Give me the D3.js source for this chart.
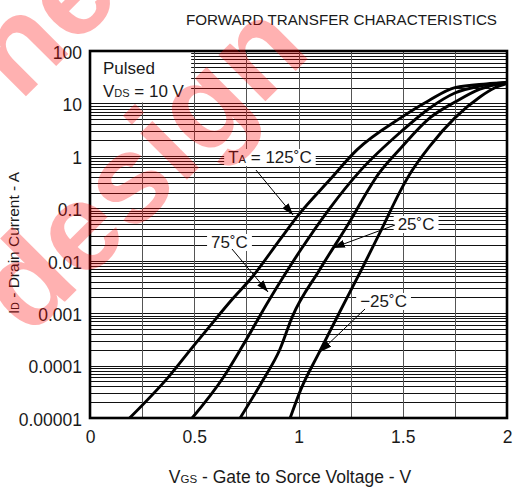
<!DOCTYPE html>
<html><head><meta charset="utf-8">
<script src="https://cdn.jsdelivr.net/npm/d3@7/dist/d3.min.js"></script>
<style>
body{margin:0;background:#fff}
svg{display:block}
text{font-family:"Liberation Sans",Arial,Helvetica,sans-serif;fill:#1a1a1a}
</style>
</head><body>
<svg id="chart" width="520" height="491"></svg>
<script>
// ---------- data ----------
const xTickValues = [0, 0.5, 1, 1.5, 2];
const xTickLabels = ["0", "0.5", "1", "1.5", "2"];
const xGridValues = [0.25, 0.5, 0.75, 1, 1.25, 1.5, 1.75];
const yTickValues = [0.00001, 0.0001, 0.001, 0.01, 0.1, 1, 10, 100];
const yTickLabels = ["0.00001", "0.0001", "0.001", "0.01", "0.1", "1", "10", "100"];

const seriesNames = ["125˚C", "75˚C", "25˚C", "−25˚C"];
// VGS (V) and ID (A)
const vgs125 = [0.19, 0.38, 0.49, 0.56, 0.68, 0.78, 0.91, 1.0, 1.15, 1.28, 1.49, 1.62, 1.75, 1.9, 2.0];
const id125  = [1e-5, 6.3e-5, 2.2e-4, 4.8e-4, 1.8e-3, 5.0e-3, 0.025, 0.075, 0.35, 1.3, 5.3, 11, 20, 23.5, 25];
const vgs75  = [0.49, 0.64, 0.73, 0.86, 1.01, 1.15, 1.3, 1.49, 1.63, 1.75, 1.87, 2.0];
const id75   = [1e-5, 6e-5, 2.3e-4, 1.8e-3, 0.016, 0.1, 0.54, 2.85, 8.2, 15.8, 21.5, 25];
const vgs25  = [0.72, 0.83, 0.91, 0.97, 1.1, 1.23, 1.39, 1.49, 1.63, 1.75, 1.87, 1.97, 2.0];
const id25   = [1e-5, 5.3e-5, 2e-4, 8.5e-4, 6.6e-3, 0.044, 0.49, 1.4, 5.3, 10.6, 18.8, 24, 25];
const vgsM25 = [0.96, 1.01, 1.1, 1.2, 1.3, 1.39, 1.49, 1.54, 1.63, 1.75, 1.87, 1.94, 2.0];
const idM25  = [1e-5, 3.4e-5, 1.8e-4, 1.1e-3, 6.5e-3, 0.034, 0.22, 0.49, 1.54, 5.3, 13.3, 19.7, 24];

// annotation anchors in data units: label (V, A), arrow tail (V, A), arrow tip (V, A)
const labelV     = [0.863, 0.669, 1.564, 1.408];
const labelI     = [0.731, 0.0175, 0.0385, 1.31e-3];
const arrowFromV = [0.796, 0.681, 1.463, 1.319];
const arrowFromI = [0.537, 0.0167, 0.048, 1.2e-3];
const arrowToV   = [0.974, 0.854, 1.165, 1.103];
const arrowToI   = [0.0745, 2.53e-3, 0.0175, 1.82e-4];

const titleText = "FORWARD TRANSFER CHARACTERISTICS";

// ---------- layout ----------
const svg = d3.select("#chart");
const L = 90, R = 507, T = 51, B = 418;
const x = d3.scaleLinear().domain([0, 2]).range([L, R]);
const y = d3.scaleLog().domain([1e-5, 100]).range([B, T]);

// grid
const hGrid = [];
for (let e = -5; e <= 1; e++) for (let m = 1; m <= 9; m++) hGrid.push(m * Math.pow(10, e));
const g = svg.append("g").attr("shape-rendering", "crispEdges");
g.selectAll("line.h").data(hGrid).join("line")
  .attr("x1", L).attr("x2", R)
  .attr("y1", d => Math.round(y(d)) + 0.5).attr("y2", d => Math.round(y(d)) + 0.5)
  .attr("stroke", "#111").attr("stroke-width", 1);
g.selectAll("line.v").data(xGridValues).join("line")
  .attr("y1", T).attr("y2", B)
  .attr("x1", d => Math.round(x(d)) + 0.5).attr("x2", d => Math.round(x(d)) + 0.5)
  .attr("stroke", "#555").attr("stroke-width", 1.2);

// white box behind "Pulsed" note
svg.append("rect").attr("x", L).attr("y", T)
  .attr("width", x(0.49) - L - 1).attr("height", y(10) - T - 1).attr("fill", "#fff");

// labels with white backgrounds
const labGroup = svg.append("g");
const fs = 17;
function addLabel(parts, cx, by, anchor) {
  const t = labGroup.append("text").attr("x", cx).attr("y", by)
    .attr("text-anchor", anchor).attr("font-size", fs);
  parts.forEach(p => {
    const ts = t.append("tspan").text(p.t);
    if (p.sub) ts.attr("font-size", fs * 0.66);
  });
  return t;
}
const labelParts = [
  [{t: "T"}, {t: "A", sub: true}, {t: " = " + seriesNames[0]}],
  [{t: seriesNames[1]}],
  [{t: seriesNames[2]}],
  [{t: seriesNames[3]}]
];
labelParts.forEach((parts, k) => {
  const t = addLabel(parts, x(labelV[k]), y(labelI[k]), "middle");
  const bb = t.node().getBBox();
  labGroup.insert("rect", "text").attr("x", bb.x - 4).attr("y", bb.y + 1)
    .attr("width", bb.width + 8).attr("height", bb.height - 2).attr("fill", "#fff");
});

// curves
const series = [
  {v: vgs125, i: id125}, {v: vgs75, i: id75}, {v: vgs25, i: id25}, {v: vgsM25, i: idM25}
];
svg.append("clipPath").attr("id", "clip").append("rect")
  .attr("x", L).attr("y", T).attr("width", R - L).attr("height", B - T);
const line = d3.line().x(d => x(d[0])).y(d => y(d[1])).curve(d3.curveMonotoneX);
svg.append("g").attr("clip-path", "url(#clip)").selectAll("path").data(series).join("path")
  .attr("d", s => line(s.v.map((v, j) => [v, s.i[j]])))
  .attr("fill", "none").attr("stroke", "#000").attr("stroke-width", 2.9)
  .attr("stroke-linejoin", "round");

// arrows
const defs = svg.append("defs");
defs.append("marker").attr("id", "ah").attr("viewBox", "0 0 12 8")
  .attr("refX", 12).attr("refY", 4).attr("markerWidth", 12).attr("markerHeight", 8)
  .attr("markerUnits", "userSpaceOnUse").attr("orient", "auto")
  .append("path").attr("d", "M0,0 L12,4 L0,8 Z").attr("fill", "#000");
svg.append("g").selectAll("line").data(labelV).join("line")
  .attr("x1", (d, k) => x(arrowFromV[k])).attr("y1", (d, k) => y(arrowFromI[k]))
  .attr("x2", (d, k) => x(arrowToV[k])).attr("y2", (d, k) => y(arrowToI[k]))
  .attr("stroke", "#000").attr("stroke-width", 1).attr("marker-end", "url(#ah)");

// Pulsed note
svg.append("text").attr("x", x(0.062)).attr("y", y(36.4)).attr("font-size", 17).text("Pulsed");
const vds = svg.append("text").attr("x", x(0.062)).attr("y", y(13.3)).attr("font-size", 17);
vds.append("tspan").text("V");
vds.append("tspan").attr("font-size", 11).text("DS");
vds.append("tspan").text(" = 10 V");

// frame
svg.append("rect").attr("x", L).attr("y", T).attr("width", R - L).attr("height", B - T)
  .attr("fill", "none").attr("stroke", "#000").attr("stroke-width", 2.6);

// axes (tick labels only)
const xAxis = d3.axisBottom(x).tickValues(xTickValues).tickSize(0).tickPadding(0)
  .tickFormat((d, k) => xTickLabels[k]);
const xa = svg.append("g").attr("transform", `translate(0,${B})`).call(xAxis);
xa.select(".domain").remove();
xa.selectAll("text").attr("font-size", 17.5).attr("fill", "#1a1a1a")
  .attr("font-family", '"Liberation Sans",Arial,sans-serif').attr("dy", null).attr("y", 25);

const yAxis = d3.axisLeft(y).tickValues(yTickValues).tickSize(0).tickPadding(8)
  .tickFormat((d, k) => yTickLabels[k]);
const ya = svg.append("g").attr("transform", `translate(${L},0)`).call(yAxis);
ya.select(".domain").remove();
ya.selectAll("text").attr("font-size", 17.5).attr("fill", "#1a1a1a")
  .attr("font-family", '"Liberation Sans",Arial,sans-serif').attr("dy", "0.42em");

// titles
svg.append("text").attr("x", 497).attr("y", 25).attr("text-anchor", "end")
  .attr("font-size", 15.2).attr("fill", "#222").text(titleText);

const xl = svg.append("text").attr("x", 290).attr("y", 483).attr("text-anchor", "middle").attr("font-size", 17.5);
xl.append("tspan").text("V");
xl.append("tspan").attr("font-size", 11.5).text("GS");
xl.append("tspan").text(" - Gate to Sorce Voltage - V");

const yl = svg.append("text").attr("transform", "translate(19,314) rotate(-90)")
  .attr("text-anchor", "start").attr("font-size", 15.5);
yl.append("tspan").text("I");
yl.append("tspan").attr("font-size", 10.5).text("D");
yl.append("tspan").text(" - Drain Current - A");

// watermark
const wm = svg.append("g").attr("transform", "translate(140,165) rotate(-45)")
  .attr("opacity", 0.3);
wm.append("text").attr("text-anchor", "middle").attr("dy", "0.35em")
  .attr("font-size", 125).attr("font-weight", "bold").style("fill", "#ff0000").text("design");
wm.append("text").attr("x", 32).attr("y", -173).attr("text-anchor", "middle").attr("dy", "0.35em")
  .attr("font-size", 125).attr("font-weight", "bold").style("fill", "#ff0000").text("ne");
</script>
</body></html>
